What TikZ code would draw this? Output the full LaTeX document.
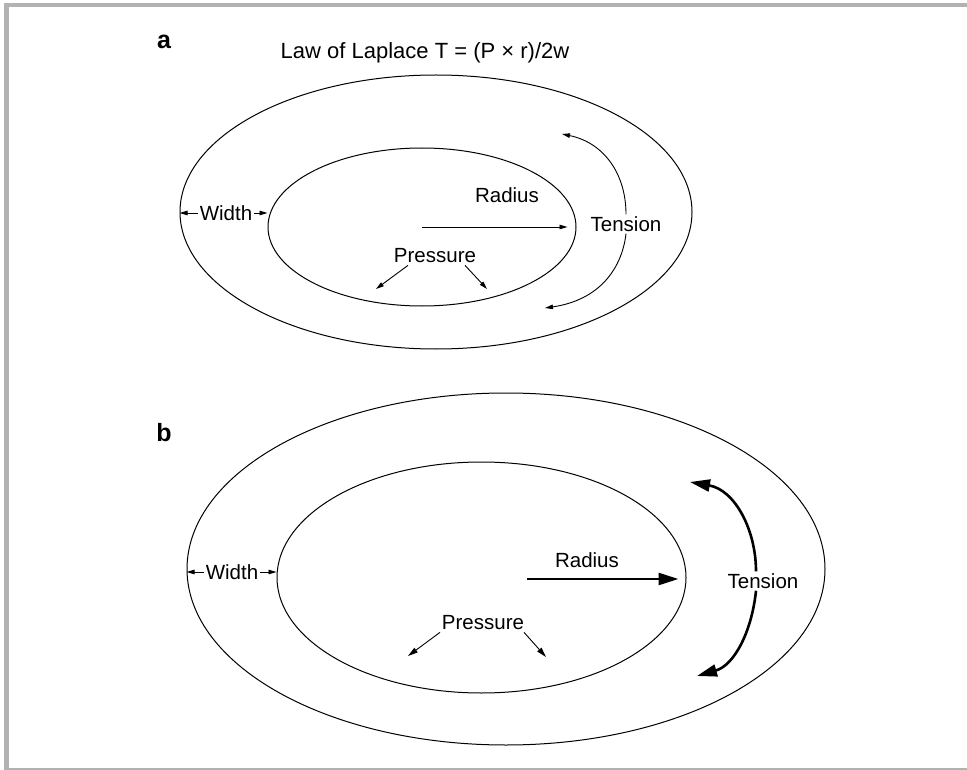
\documentclass[tikz,border=0pt]{standalone}
\usepackage{fontspec}
\setmainfont{Liberation Sans}
\usetikzlibrary{positioning, arrows.meta, shapes.geometric}

\begin{document}
\begin{tikzpicture}[
    x=1pt, y=-1pt,
    font=\fontsize{20.5}{24}\selectfont,
    wall/.style={
        ellipse,
        draw,
        line width=1pt,
        inner sep=0pt
    },
    txt/.style={
        inner sep=2pt
    },
    panel/.style={
        inner sep=0pt,
        font=\fontsize{25}{28}\selectfont\bfseries
    },
    thinarrow/.style={
        -{Triangle[length=8pt, width=4.5pt]},
        line width=0.9pt
    },
    presarrow/.style={
        -{Triangle[length=10pt, width=5.5pt]},
        line width=0.9pt
    },
    thickarrow/.style={
        -{Triangle[length=20pt, width=12pt]},
        line width=2.6pt
    },
    frame/.style={
        fill=black!30,
        draw=none
    }
]

\useasboundingbox (0,0) rectangle (967,770);

% ------------------------------------------------------------------
% FRAME
% ------------------------------------------------------------------

\fill[frame] (4,3) rectangle (967,7);
\fill[frame] (4,3) rectangle (9,770);
\fill[frame] (4,767.5) rectangle (967,770);

% ------------------------------------------------------------------
% PANEL A
% ------------------------------------------------------------------

\node[panel] (labA) at (164,42) {a};
\node[txt, font=\fontsize{22}{26}\selectfont] (law) at (425,53) {Law of Laplace T = (P × r)/2w};

\node[wall, minimum width=512pt, minimum height=274pt] (outerA) at (436,212) {};
\node[wall, minimum width=308pt, minimum height=158pt] (innerA) at (422,227) {};

\node[txt] (widthA) at (226,213) {Width};
\node[txt] (radA) at (507,195) {Radius};
\node[txt] (pressA) at (435,256) {Pressure};
\node[txt] (tensA) at (626,224) {Tension};

\coordinate (pressAl) at (376,289);
\coordinate (pressAr) at (487,289);
\coordinate (tensAup) at (562,134);
\coordinate (tensAdn) at (545,308);

\draw[thinarrow] (widthA.west) -- (widthA.west -| outerA.west);
\draw[thinarrow] (widthA.east) -- (widthA.east -| innerA.west);
\draw[thinarrow] (innerA.center) -- ([xshift=-9pt]innerA.east);
\draw[thinarrow] ([xshift=-27pt]pressA.south) -- (pressAl);
\draw[thinarrow] ([xshift=30pt]pressA.south) -- (pressAr);
\draw[thinarrow] (tensA.north) .. controls (626,175) and (605,143) .. (tensAup);
\draw[thinarrow] (tensA.south) .. controls (622,268) and (600,300) .. (tensAdn);

% ------------------------------------------------------------------
% PANEL B
% ------------------------------------------------------------------

\node[panel] (labB) at (164,433) {b};

\node[wall, minimum width=638pt, minimum height=352pt] (outerB) at (506,569) {};
\node[wall, minimum width=409pt, minimum height=231pt] (innerB) at (481.5,577.5) {};

\node[txt] (widthB) at (232,572) {Width};
\node[txt] (radB) at (587,560) {Radius};
\node[txt] (pressB) at (483,623) {Pressure};
\node[txt] (tensB) at (763,581) {Tension};

\coordinate (radBs) at (527,579);
\coordinate (pressBl) at (408,656);
\coordinate (pressBr) at (546,657);
\coordinate (tensBup) at (690,482);
\coordinate (tensBdn) at (697,676);

\draw[thinarrow] (widthB.west) -- (widthB.west -| outerB.west);
\draw[thinarrow] (widthB.east) -- (widthB.east -| innerB.west);
\draw[thickarrow] (radBs) -- ([xshift=-8pt]radBs -| innerB.east);
\draw[presarrow] ([xshift=-43pt]pressB.south) -- (pressBl);
\draw[presarrow] ([xshift=41pt]pressB.south) -- (pressBr);
\draw[thickarrow] ([xshift=-7pt]tensB.north) .. controls (756,530) and (735,490) .. (tensBup);
\draw[thickarrow] ([xshift=-7pt]tensB.south) .. controls (752,630) and (735,665) .. (tensBdn);

\end{tikzpicture}
\end{document}
